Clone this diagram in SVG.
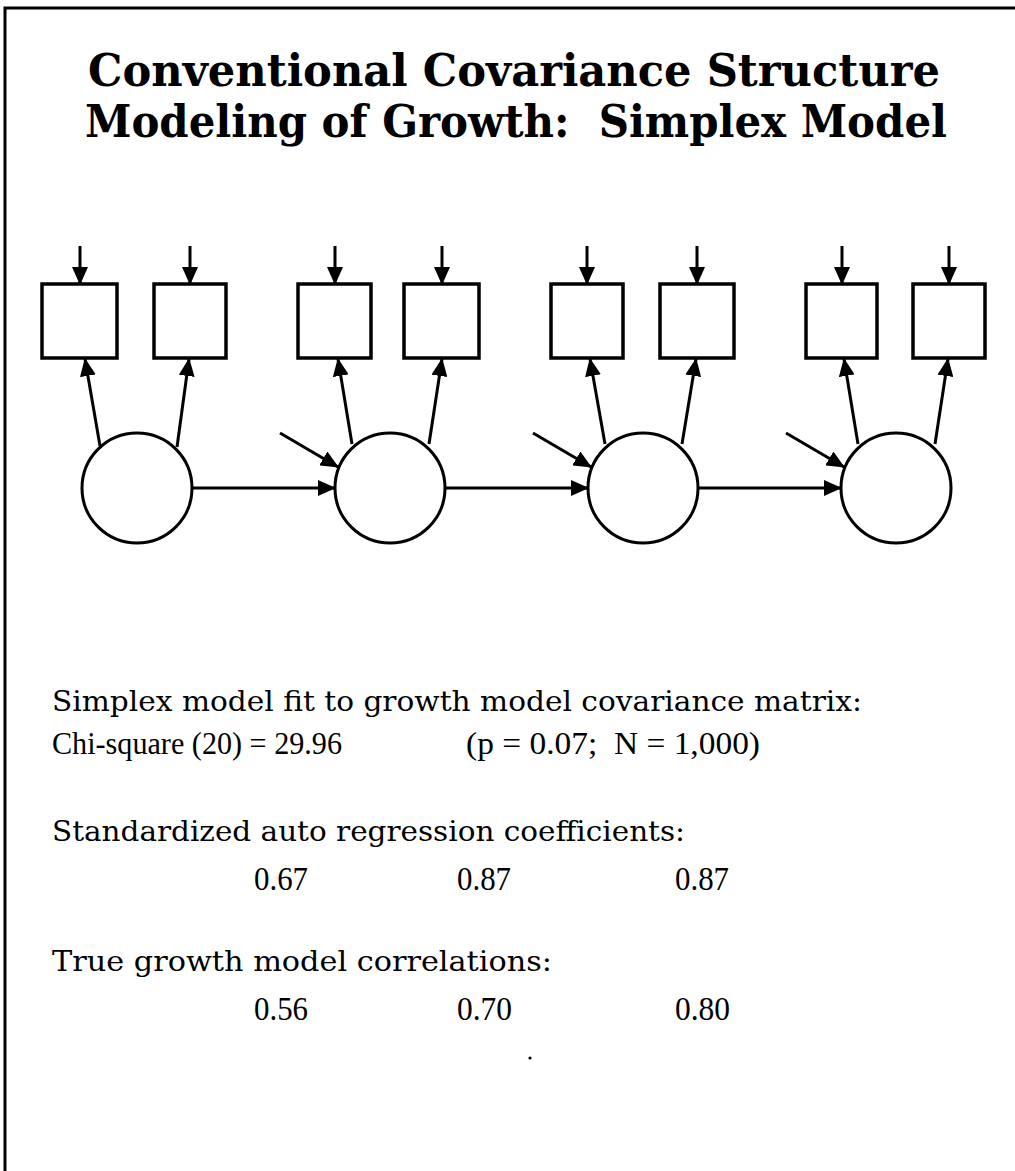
<svg xmlns="http://www.w3.org/2000/svg" width="1015" height="1171" viewBox="0 0 1015 1171">
<defs>
<style>
.frame{fill:none;stroke:#000;stroke-width:3}
.box{fill:#fff;stroke:#000;stroke-width:3.5}
.lat{fill:#fff;stroke:#000;stroke-width:3}
.conn line{stroke:#000;stroke-width:3;marker-end:url(#ah)}
.title{font-family:"DejaVu Serif","Liberation Serif",serif;font-weight:bold;font-size:44px;fill:#000;text-anchor:middle}
.body{font-family:"DejaVu Serif","Liberation Serif",serif;font-size:28px;fill:#000;white-space:pre}
.num{font-family:"Liberation Serif","DejaVu Serif",serif;font-size:31px;fill:#000;white-space:pre}
.val{font-family:"Liberation Serif","DejaVu Serif",serif;font-size:33px;fill:#000}
</style>
<marker id="ah" viewBox="0 0 18 16" refX="17" refY="8" markerWidth="18" markerHeight="16" markerUnits="userSpaceOnUse" orient="auto">
<path d="M0,0 L18,8 L0,16 z" fill="#000"/>
</marker>
</defs>
<rect width="1015" height="1171" fill="#fff"/>
<path class="frame" d="M5,1171 L5,8 L1015,8"/>
<g id="title">
<text class="title" x="514" y="86" textLength="852" lengthAdjust="spacingAndGlyphs">Conventional Covariance Structure</text>
<text class="title" x="516" y="137" textLength="862" lengthAdjust="spacingAndGlyphs" style="white-space:pre">Modeling of Growth:  Simplex Model</text>
</g>
<g id="nodes">
<g id="x1"><rect class="box" x="42" y="284" width="75" height="74"/></g>
<g id="x2"><rect class="box" x="154" y="284" width="72" height="74"/></g>
<g id="x3"><rect class="box" x="298" y="284" width="73" height="74"/></g>
<g id="x4"><rect class="box" x="404" y="284" width="75" height="74"/></g>
<g id="x5"><rect class="box" x="551" y="284" width="72" height="74"/></g>
<g id="x6"><rect class="box" x="660" y="284" width="74" height="74"/></g>
<g id="x7"><rect class="box" x="806" y="284" width="71" height="74"/></g>
<g id="x8"><rect class="box" x="913" y="284" width="72" height="74"/></g>
<g id="f1"><circle class="lat" cx="137" cy="488" r="55"/></g>
<g id="f2"><circle class="lat" cx="390" cy="488" r="55"/></g>
<g id="f3"><circle class="lat" cx="643" cy="488" r="55"/></g>
<g id="f4"><circle class="lat" cx="896" cy="488" r="55"/></g>
</g>
<g id="connectors" class="conn">
<line x1="80" y1="246" x2="80" y2="284"/>
<line x1="190" y1="246" x2="190" y2="284"/>
<line x1="335" y1="246" x2="335" y2="284"/>
<line x1="442" y1="246" x2="442" y2="284"/>
<line x1="587" y1="246" x2="587" y2="284"/>
<line x1="697" y1="246" x2="697" y2="284"/>
<line x1="842" y1="246" x2="842" y2="284"/>
<line x1="949" y1="246" x2="949" y2="284"/>
<line x1="100" y1="446" x2="85" y2="359"/>
<line x1="177" y1="447" x2="189" y2="359"/>
<line x1="352" y1="444" x2="338" y2="359"/>
<line x1="429" y1="444" x2="442" y2="359"/>
<line x1="605" y1="444" x2="590" y2="359"/>
<line x1="682" y1="444" x2="696" y2="359"/>
<line x1="858" y1="444" x2="844" y2="359"/>
<line x1="935" y1="444" x2="948" y2="359"/>
<line x1="192" y1="488" x2="335" y2="488"/>
<line x1="445" y1="488" x2="588" y2="488"/>
<line x1="698" y1="488" x2="841" y2="488"/>
<line x1="280" y1="433" x2="338" y2="467"/>
<line x1="533" y1="433" x2="591" y2="467"/>
<line x1="786" y1="433" x2="844" y2="467"/>
</g>
<g id="results">
<text class="body" x="52" y="711" textLength="810" lengthAdjust="spacingAndGlyphs">Simplex model fit to growth model covariance matrix:</text>
<text class="num" x="52" y="754" textLength="290" lengthAdjust="spacingAndGlyphs">Chi-square (20) = 29.96</text>
<text class="num" x="466" y="754" textLength="294" lengthAdjust="spacingAndGlyphs">(p = 0.07;  N = 1,000)</text>
<text class="body" x="52" y="841" textLength="633" lengthAdjust="spacingAndGlyphs">Standardized auto regression coefficients:</text>
<text class="val" x="254" y="890" textLength="54" lengthAdjust="spacingAndGlyphs">0.67</text>
<text class="val" x="457" y="890" textLength="54" lengthAdjust="spacingAndGlyphs">0.87</text>
<text class="val" x="675" y="890" textLength="54" lengthAdjust="spacingAndGlyphs">0.87</text>
<text class="body" x="52" y="971" textLength="500" lengthAdjust="spacingAndGlyphs">True growth model correlations:</text>
<text class="val" x="254" y="1020" textLength="54" lengthAdjust="spacingAndGlyphs">0.56</text>
<text class="val" x="457" y="1020" textLength="55" lengthAdjust="spacingAndGlyphs">0.70</text>
<text class="val" x="675" y="1020" textLength="55" lengthAdjust="spacingAndGlyphs">0.80</text>
<circle cx="530" cy="1058" r="1.6" fill="#000"/>
</g>
</svg>
